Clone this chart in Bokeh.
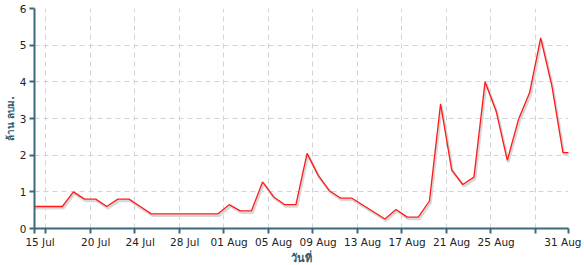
import pandas as pd
from bokeh.plotting import figure
from bokeh.models import FixedTicker, ColumnDataSource, Range1d
from bokeh.transform import dodge
from bokeh.embed import file_html
from bokeh.resources import INLINE

# ---- data ----
start_date = "2024-07-14"
values = [0.6, 0.6, 0.6, 0.6, 1.0, 0.8, 0.8, 0.6, 0.8, 0.8, 0.6, 0.4,
          0.4, 0.4, 0.4, 0.4, 0.4, 0.4, 0.65, 0.48, 0.48, 1.27, 0.86, 0.65,
          0.65, 2.05, 1.45, 1.03, 0.83, 0.83, 0.64, 0.45, 0.26, 0.52, 0.31, 0.31,
          0.75, 3.4, 1.6, 1.2, 1.4, 4.0, 3.2, 1.86, 2.97, 3.7, 5.2, 3.9, 2.07, 2.07]
dates = pd.date_range(start_date, periods=len(values), freq="D")
axis_start = pd.Timestamp("2024-07-15")
axis_end = pd.Timestamp("2024-09-01")
grid_dates = ["2024-07-15", "2024-07-16", "2024-07-20", "2024-07-24", "2024-07-28",
              "2024-08-01", "2024-08-05", "2024-08-09", "2024-08-13", "2024-08-17",
              "2024-08-21", "2024-08-25", "2024-08-29", "2024-09-01"]
label_dates = ["2024-07-15", "2024-07-20", "2024-07-24", "2024-07-28", "2024-08-01",
               "2024-08-05", "2024-08-09", "2024-08-13", "2024-08-17", "2024-08-21",
               "2024-08-25", "2024-08-31"]
tick_labels = ["15 Jul", "20 Jul", "24 Jul", "28 Jul", "01 Aug", "05 Aug", "09 Aug",
               "13 Aug", "17 Aug", "21 Aug", "25 Aug", "31 Aug"]
y_ticks = [0, 1, 2, 3, 4, 5, 6]
x_title = "วันที่"
y_title = "ล้าน ลบม."


def day(d):
    return (pd.Timestamp(d) - axis_start).days


xs = [day(d) + 0.5 for d in dates]
src = ColumnDataSource(dict(x=xs, y=values))
grid_pos = [day(d) for d in grid_dates]
label_pos = [day(d) + 0.5 for d in label_dates]

AXC = "#3d6a78"
FONT = "DejaVu Sans"

p = figure(frame_width=534, frame_height=220, output_backend="svg", toolbar_location=None,
           x_range=Range1d(0, day(axis_end)), y_range=Range1d(0, 6),
           min_border_left=34, min_border_right=16, min_border_top=8, min_border_bottom=37)
p.outline_line_color = None
p.background_fill_color = "white"

# shadow + line
p.line(dodge("x", 0.1, range=p.x_range), dodge("y", -0.05, range=p.y_range), source=src,
       line_color="#d8d8d8", line_width=2.5)
p.line("x", "y", source=src, line_color="#ff1a1a", line_width=1.3)

# x axis
xa = p.xaxis[0]
xa.ticker = FixedTicker(ticks=label_pos, minor_ticks=grid_pos)
xa.major_label_overrides = {pos: lab for pos, lab in zip(label_pos, tick_labels)}
xa.major_tick_out = 0
xa.major_tick_in = 0
xa.minor_tick_out = 5
xa.minor_tick_in = 0
xa.minor_tick_line_color = AXC
xa.minor_tick_line_width = 2
xa.axis_line_color = AXC
xa.axis_line_width = 2
xa.major_label_text_font = FONT
xa.major_label_text_font_size = "10.5px"
xa.major_label_text_color = "#222222"
xa.major_label_standoff = 2
xa.axis_label = x_title
xa.axis_label_text_font = FONT
xa.axis_label_text_font_size = "11px"
xa.axis_label_text_font_style = "bold"
xa.axis_label_text_color = "#2f5a6b"
xa.axis_label_standoff = 1

p.xgrid.ticker = FixedTicker(ticks=grid_pos)
p.xgrid.grid_line_color = "#cfd4d8"
p.xgrid.grid_line_dash = "5 4"

# y axis
ya = p.yaxis[0]
ya.ticker = FixedTicker(ticks=y_ticks)
ya.major_tick_out = 5
ya.major_tick_in = 0
ya.minor_tick_out = 0
ya.minor_tick_in = 0
ya.major_tick_line_color = AXC
ya.major_tick_line_width = 2
ya.axis_line_color = AXC
ya.axis_line_width = 2
ya.major_label_text_font = FONT
ya.major_label_text_font_size = "10.5px"
ya.major_label_text_color = "#222222"
ya.major_label_standoff = 3
ya.axis_label = y_title
ya.axis_label_text_font = FONT
ya.axis_label_text_font_size = "10px"
ya.axis_label_text_font_style = "bold"
ya.axis_label_text_color = "#2f5a6b"
ya.axis_label_standoff = 1

p.ygrid.grid_line_color = "#cfd4d8"
p.ygrid.grid_line_dash = "5 4"

open("out.html", "w").write(file_html(p, INLINE))
